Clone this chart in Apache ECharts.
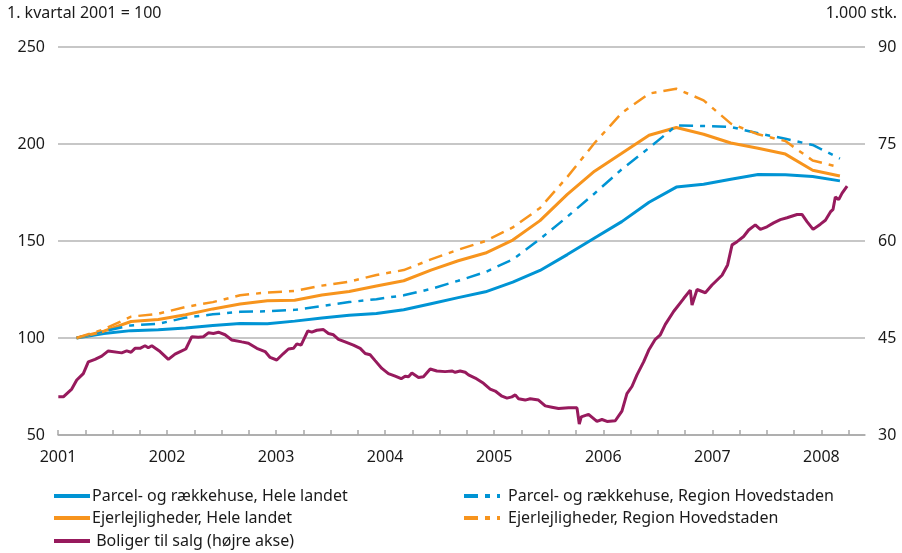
<!DOCTYPE html>
<html>
<head>
<meta charset="utf-8">
<script src="https://cdn.jsdelivr.net/npm/echarts@6/dist/echarts.min.js"></script>
<style>
  html, body { margin: 0; padding: 0; background: #fff; }
  #chart { width: 902px; height: 553px; }
</style>
</head>
<body>
<div id="chart"></div>
<script>
// kvartalsindeks, 1. kvartal 2001 = 100 (2001K1 .. 2008K1)
const startAar = 2001
const parcelHele = [100, 102.3, 103.8, 104.3, 105.2, 106.5, 107.5, 107.3, 108.7, 110.3, 111.7, 112.6, 114.6, 117.7, 120.8, 123.8, 128.8, 134.8, 143, 151.5, 160, 170, 177.8, 179.3, 181.8, 184.3, 184.2, 183.2, 181]
const parcelHovedstaden = [100, 103.5, 106.5, 107.3, 110.5, 112.2, 113.5, 113.8, 114.5, 116.5, 118.5, 120, 122, 125.3, 129.5, 134, 140.5, 151, 162.5, 174.5, 187, 198, 209.5, 209.3, 208.8, 205.5, 202.7, 199.5, 192.5]
const ejerHele = [100, 103.5, 108.5, 109.5, 112, 115, 117.5, 119.2, 119.5, 122.2, 124, 126.8, 129.5, 135, 139.8, 143.8, 150.5, 160.5, 174, 186, 195.2, 204.5, 208.5, 205, 200.5, 197.8, 194.8, 186.5, 183.5]
const ejerHovedstaden = [100, 104.5, 111, 112.5, 116, 118.5, 122, 123.5, 124.2, 127, 129, 132.5, 135, 140.5, 145.5, 150, 157, 167, 183, 200.5, 216, 226, 228.5, 222.5, 210.5, 205, 201.5, 191.5, 188]

// boliger til salg, 1.000 stk. (tidspunkt i decimalår)
const salgTid = [2001.003, 2001.049, 2001.126, 2001.172, 2001.232, 2001.278, 2001.339, 2001.401, 2001.461, 2001.584, 2001.630, 2001.670, 2001.706, 2001.752, 2001.798, 2001.828, 2001.860, 2001.936,
  2002.012, 2002.073, 2002.135, 2002.172, 2002.227, 2002.287, 2002.333, 2002.379, 2002.425, 2002.471, 2002.532, 2002.594, 2002.685, 2002.746, 2002.823, 2002.899, 2002.945,
  2003.006, 2003.067, 2003.113, 2003.159, 2003.190, 2003.229, 2003.291, 2003.327, 2003.373, 2003.434, 2003.480, 2003.526, 2003.572, 2003.633, 2003.709, 2003.771, 2003.817, 2003.862, 2003.908, 2003.970,
  2004.030, 2004.092, 2004.147, 2004.183, 2004.214, 2004.245, 2004.306, 2004.351, 2004.413, 2004.474, 2004.550, 2004.612, 2004.642, 2004.688, 2004.734, 2004.764, 2004.826, 2004.902, 2004.963,
  2005.009, 2005.071, 2005.117, 2005.162, 2005.193, 2005.223, 2005.284, 2005.330, 2005.406, 2005.468, 2005.529, 2005.590, 2005.682, 2005.759, 2005.780, 2005.798, 2005.865, 2005.942, 2005.988,
  2006.034, 2006.110, 2006.171, 2006.217, 2006.263, 2006.309, 2006.370, 2006.416, 2006.477, 2006.523, 2006.569, 2006.645, 2006.737, 2006.798, 2006.814, 2006.860, 2006.936, 2006.997,
  2007.089, 2007.140, 2007.181, 2007.227, 2007.287, 2007.333, 2007.394, 2007.440, 2007.501, 2007.562, 2007.624, 2007.685, 2007.777, 2007.822, 2007.868, 2007.924, 2007.991,
  2008.037, 2008.083, 2008.107, 2008.128, 2008.159, 2008.190, 2008.236]
const salgAntal = [35.9, 35.9, 37.1, 38.5, 39.5, 41.3, 41.7, 42.2, 43.0, 42.7, 43.0, 42.8, 43.4, 43.4, 43.8, 43.5, 43.8, 42.9,
  41.7, 42.5, 43.0, 43.3, 45.2, 45.1, 45.2, 45.8, 45.7, 45.9, 45.5, 44.7, 44.4, 44.2, 43.4, 42.9, 42.0,
  41.6, 42.6, 43.3, 43.4, 44.1, 43.9, 46.1, 45.9, 46.2, 46.3, 45.7, 45.5, 44.8, 44.4, 43.9, 43.4, 42.6, 42.4, 41.5, 40.3,
  39.5, 39.1, 38.7, 39.1, 39.0, 39.6, 38.9, 39.0, 40.2, 39.9, 39.8, 39.9, 39.7, 39.9, 39.7, 39.3, 38.8, 38.0, 37.1,
  36.8, 36.0, 35.7, 35.9, 36.2, 35.6, 35.4, 35.6, 35.4, 34.5, 34.3, 34.1, 34.2, 34.2, 31.7, 32.8, 33.2, 32.1, 32.4,
  32.1, 32.2, 33.7, 36.4, 37.5, 39.3, 41.3, 43.1, 44.8, 45.5, 47.1, 49.1, 51.1, 52.4, 50.1, 52.5, 52.0, 53.2,
  54.7, 56.3, 59.4, 59.9, 60.7, 61.7, 62.5, 61.8, 62.2, 62.8, 63.3, 63.6, 64.1, 64.1, 63.0, 61.8, 62.6,
  63.2, 64.5, 64.9, 66.8, 66.4, 67.4, 68.5]

const blaa = '#0094d4'
const orange = '#f7941d'
const lilla = '#971a5d'
const tekst = '#1a1a1a'
const font = 'Noto Sans'

// kvartalspunkter placeres midt i kvartalet
function kvartal (vaerdier) {
  return vaerdier.map((v, i) => [startAar + 0.17 + i * 0.25, v])
}

// en legende pr. post, så placeringen svarer til forlægget
function legendePost (navn, left, top, gap) {
  return {
    left: left,
    top: top,
    itemWidth: 36,
    itemHeight: 14,
    itemGap: 4,
    itemStyle: { opacity: 0 },
    lineStyle: { width: 4 },
    textStyle: { fontSize: 16, lineHeight: 16, color: tekst, fontFamily: font, padding: [0, 0, 0, gap - 5] },
    data: [navn]
  }
}

const chart = echarts.init(document.getElementById('chart'))
const option = {
  animation: false,
  textStyle: { fontFamily: font, color: tekst },
  grid: { left: 58, right: 37, top: 47, bottom: 118 },
  graphic: [
    { type: 'text', left: 7, top: 5, style: { text: '1. kvartal 2001 = 100', font: '16px ' + font, fill: tekst } },
    { type: 'text', right: 5, top: 5, style: { text: '1.000 stk.', font: '16px ' + font, fill: tekst } }
  ],
  xAxis: {
    type: 'value',
    min: 2001,
    max: 2008.4,
    interval: 0.25,
    axisLine: { lineStyle: { color: '#a8a8a8', width: 1.5 } },
    axisTick: { inside: true, length: 5, lineStyle: { color: '#a8a8a8', width: 1.5 } },
    splitLine: { show: false },
    axisLabel: {
      margin: 14,
      fontSize: 16,
      color: tekst,
      fontFamily: font,
      showMaxLabel: false,
      formatter: v => (Math.abs(v - Math.round(v)) < 1e-6 ? String(Math.round(v)) : '')
    }
  },
  yAxis: [
    {
      type: 'value',
      min: 50,
      max: 250,
      interval: 50,
      axisLine: { show: false },
      axisTick: { show: false },
      splitLine: { lineStyle: { color: '#b4b4b4', width: 1.5 } },
      axisLabel: { margin: 13, fontSize: 16, color: tekst, fontFamily: font }
    },
    {
      type: 'value',
      min: 30,
      max: 90,
      interval: 15,
      position: 'right',
      axisLine: { show: false },
      axisTick: { show: false },
      splitLine: { show: false },
      axisLabel: { margin: 13, fontSize: 16, color: tekst, fontFamily: font }
    }
  ],
  legend: [
    legendePost('Parcel- og rækkehuse, Hele landet', 47, 483, 2),
    legendePost('Ejerlejligheder, Hele landet', 47, 505, 2),
    legendePost(' Boliger til salg (højre akse)', 47, 528, 2),
    legendePost('Parcel- og rækkehuse, Region Hovedstaden', 457, 483, 8),
    legendePost('Ejerlejligheder, Region Hovedstaden', 457, 505, 8)
  ],
  series: [
    {
      name: ' Boliger til salg (højre akse)',
      type: 'line',
      yAxisIndex: 1,
      symbol: 'none',
      lineStyle: { color: lilla, width: 3 },
      itemStyle: { color: lilla },
      data: salgTid.map((t, i) => [t, salgAntal[i]])
    },
    {
      name: 'Parcel- og rækkehuse, Hele landet',
      type: 'line',
      symbol: 'none',
      lineStyle: { color: blaa, width: 3 },
      itemStyle: { color: blaa },
      data: kvartal(parcelHele)
    },
    {
      name: 'Ejerlejligheder, Hele landet',
      type: 'line',
      symbol: 'none',
      lineStyle: { color: orange, width: 3 },
      itemStyle: { color: orange },
      data: kvartal(ejerHele)
    },
    {
      name: 'Parcel- og rækkehuse, Region Hovedstaden',
      type: 'line',
      symbol: 'none',
      lineStyle: { color: blaa, width: 2.5, type: [14, 7, 5, 7] },
      itemStyle: { color: blaa },
      data: kvartal(parcelHovedstaden)
    },
    {
      name: 'Ejerlejligheder, Region Hovedstaden',
      type: 'line',
      symbol: 'none',
      lineStyle: { color: orange, width: 2.5, type: [14, 7, 5, 7] },
      itemStyle: { color: orange },
      data: kvartal(ejerHovedstaden)
    }
  ]
}
chart.setOption(option)
</script>
</body>
</html>
